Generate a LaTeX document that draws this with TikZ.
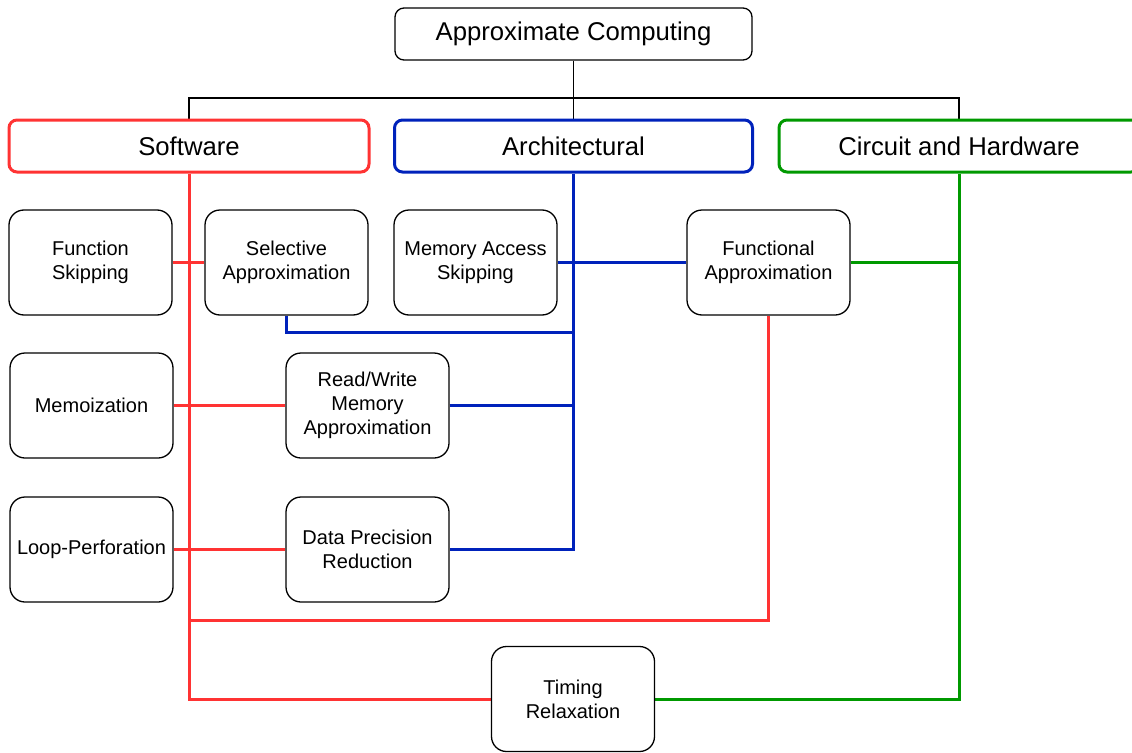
\documentclass[tikz,border=0pt]{standalone}
\usepackage{fontspec}
\setmainfont{Liberation Sans}
\usetikzlibrary{backgrounds}
\definecolor{swred}{HTML}{FF3333}
\definecolor{arblue}{HTML}{0022BB}
\definecolor{hwgreen}{HTML}{009900}
\tikzset{
  box/.style={draw=black, line width=1.3pt, rounded corners=15pt, fill=white,
    minimum width=163pt, minimum height=105pt, inner sep=0pt, align=center,
    font=\fontsize{20}{24}\selectfont},
  head/.style={draw, line width=3pt, rounded corners=8pt, fill=white,
    minimum width=360pt, minimum height=52pt, inner sep=0pt,
    font=\fontsize{25.7}{30}\selectfont},
  rootbox/.style={draw=black, line width=1.3pt, rounded corners=9pt, fill=white,
    minimum width=357pt, minimum height=52pt, inner sep=0pt,
    font=\fontsize{25.7}{30}\selectfont},
  tree/.style={draw=black, line width=1.3pt},
  redl/.style={draw=swred, line width=3pt},
  bluel/.style={draw=arblue, line width=3pt},
  greenl/.style={draw=hwgreen, line width=3pt},
}
\begin{document}
\begin{tikzpicture}[x=1pt,y=-1pt]
\clip (0,0) rectangle (1132,752);

% boxes
\node[rootbox] (top) at (573.5,34) {Approximate Computing};
\node[head, draw=swred] (sw) at (189,146) {Software};
\node[head, draw=arblue, minimum width=358pt] (arch) at (573.5,146) {Architectural};
\node[head, draw=hwgreen] (hw) at (959,146) {Circuit and Hardware};

\node[box] (fs) at (90.5,262.5) {Function\\Skipping};
\node[box] (sa) at (286.5,262.5) {Selective\\Approximation};
\node[box] (mas) at (475.5,262.5) {Memory Access\\Skipping};
\node[box] (fa) at (768.5,262.5) {Functional\\Approximation};
\node[box] (memo) at (91.5,405.5) {Memoization};
\node[box] (rw) at (367.5,405.5) {Read/Write\\Memory\\Approximation};
\node[box] (loop) at (91.5,549.5) {Loop-Perforation};
\node[box] (dpr) at (367.5,549.5) {Data Precision\\Reduction};
\node[box] (tr) at (573,699) {Timing\\Relaxation};

% junction points of the wiring
\coordinate (bus) at (573.5,98);
\coordinate (rj) at (189,620);
\coordinate (bj) at (573.5,332);

\begin{scope}[on background layer]
\fill[white] (0,0) rectangle (1132,752);
% hierarchy
\path[tree] (top.south) -- (arch.north);
\path[tree] (sw.north) |- (bus) -| (hw.north);

% software links
\path[redl] (sw.south) |- (tr.west);
\path[redl] (fs.east) -- (sa.west);
\path[redl] (memo.east) -- (rw.west);
\path[redl] (loop.east) -- (dpr.west);
\path[redl] (fa.south) |- (rj);

% architectural links
\path[bluel] (arch.south) |- (dpr.east);
\path[bluel] (mas.east) -- (fa.west);
\path[bluel] (sa.south) |- (bj);
\path[bluel] (rw.east) -- (rw.east -| arch.south);

% circuit and hardware links
\path[greenl] (hw.south) |- (tr.east);
\path[greenl] (fa.east) -- (fa.east -| hw.south);
\end{scope}
\end{tikzpicture}
\end{document}
